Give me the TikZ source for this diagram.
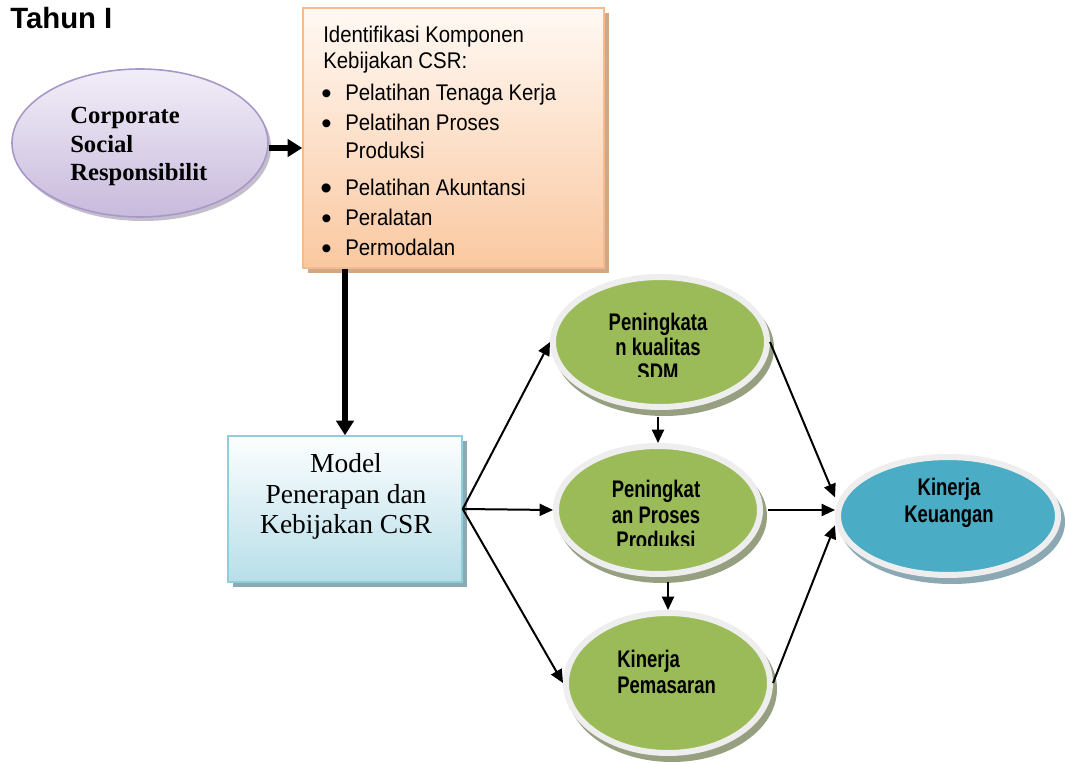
\documentclass[tikz,border=0pt]{standalone}
\usepackage{fontspec}
\setmainfont{Liberation Serif}
\newfontfamily\arial{Liberation Sans}
\newfontfamily\arialm[FakeStretch=0.9]{Liberation Sans}
\newfontfamily\arialn[FakeStretch=0.77]{Liberation Sans}
\usetikzlibrary{shapes.geometric,arrows.meta}

\definecolor{purpTop}{RGB}{242,238,248}
\definecolor{purpBot}{RGB}{200,186,220}
\definecolor{purpLine}{RGB}{168,152,200}
\definecolor{purpShadow}{RGB}{196,190,204}
\definecolor{orTop}{RGB}{255,249,244}
\definecolor{orBot}{RGB}{250,200,160}
\definecolor{orLine}{RGB}{246,186,140}
\definecolor{orShadow}{RGB}{208,168,136}
\definecolor{blTop}{RGB}{253,254,255}
\definecolor{blBot}{RGB}{183,222,232}
\definecolor{blLine}{RGB}{146,205,220}
\definecolor{blShadow}{RGB}{140,170,180}
\definecolor{grFill}{RGB}{155,187,89}
\definecolor{ringCol}{RGB}{238,238,238}
\definecolor{grShadow}{RGB}{150,160,128}
\definecolor{tealFill}{RGB}{75,172,198}
\definecolor{tealShadow}{RGB}{140,168,178}

\tikzset{
  ln/.style={inner sep=0pt, anchor=base west},
  lc/.style={inner sep=0pt, anchor=base},
  bigarrow/.style={line width=4pt, -{Triangle[length=11pt,width=13pt]}},
  thinarrow/.style={line width=1.5pt, -{Triangle[length=10pt,width=9pt]}},
  greenell/.style={ellipse, draw=ringCol, line width=4.5pt, fill=grFill, inner sep=0pt},
  ovaltxt/.style={font=\arialn\bfseries\fontsize{18}{21}\selectfont},
  identtxt/.style={font=\arialm\fontsize{17}{20}\selectfont},
  bul/.style={inner sep=0pt, anchor=base west, font=\arial\fontsize{22}{22}\selectfont},
}

\begin{document}
\begin{tikzpicture}[x=0.75pt,y=-0.75pt]
\useasboundingbox (0,0) rectangle (1065,764);
\fill[white] (0,0) rectangle (1065,764);

% title
\node[ln, font=\arial\bfseries\fontsize{22}{26}\selectfont] (title) at (10,28) {Tahun I};

% shadows
\fill[purpShadow] (143,147) ellipse [x radius=96pt, y radius=55.5pt];
\fill[orShadow] (308,13) rectangle (609,273);
\fill[blShadow] (233,441) rectangle (467,587);
\fill[grShadow] (664,348) ellipse [x radius=82.5pt, y radius=51pt];
\fill[grShadow] (662,516) ellipse [x radius=78.75pt, y radius=50.25pt];
\fill[grShadow] (672,689) ellipse [x radius=78.75pt, y radius=54.75pt];
\fill[tealShadow] (952,522) ellipse [x radius=84.75pt, y radius=46.5pt];

% shapes
\node[ellipse, draw=purpLine, line width=1.2pt, top color=purpTop, bottom color=purpBot,
      minimum width=192pt, minimum height=111pt, inner sep=0pt] (csr) at (140,143) {};
\node[rectangle, draw=orLine, line width=1.1pt, top color=orTop, bottom color=orBot,
      minimum width=225.75pt, minimum height=195pt, inner sep=0pt] (ident) at (453.5,138) {};
\node[rectangle, draw=blLine, line width=1.1pt, top color=blTop, bottom color=blBot,
      minimum width=175.5pt, minimum height=109.5pt, inner sep=0pt] (model) at (345,509) {};
\node[greenell, minimum width=160.5pt, minimum height=97.5pt] (g1) at (660,342) {};
\node[greenell, minimum width=153pt, minimum height=96pt] (g2) at (658,510) {};
\node[greenell, minimum width=153pt, minimum height=105pt] (g3) at (668,683) {};
\node[ellipse, draw=ringCol, line width=4.5pt, fill=tealFill, inner sep=0pt,
      minimum width=165pt, minimum height=88.5pt] (keu) at (948,516) {};

% CSR text
\begin{scope}[every node/.style={ln, font=\bfseries\fontsize{18.5}{22}\selectfont}]
\node (c1) at (70,123) {Corporate};
\node (c2) at (70,152) {Social};
\node (c3) at (70,180) {Responsibilit};
\end{scope}

% ident text
\begin{scope}[every node/.style={ln, identtxt}]
\node (i1) at (323,42) {Identifikasi Komponen};
\node (i2) at (323,68) {Kebijakan CSR:};
\node (i3) at (345,100) {Pelatihan Tenaga Kerja};
\node (i4) at (345,130) {Pelatihan Proses};
\node (i5) at (345,158) {Produksi};
\node (i6) at (345,195) {Pelatihan Akuntansi};
\node (i7) at (345,225) {Peralatan};
\node (i8) at (345,255) {Permodalan};
\end{scope}
\node[bul] (b1) at (321,103) {•};
\node[bul] (b2) at (321,133) {•};
\node[bul, font=\arial\fontsize{25}{25}\selectfont] (b3) at (320,199) {•};
\node[bul] (b4) at (321,228) {•};
\node[bul] (b5) at (321,258) {•};

% model text
\begin{scope}[every node/.style={lc, font=\fontsize{20.6}{24}\selectfont}]
\node (m1) at (346,472) {Model};
\node (m2) at (346,503) {Penerapan dan};
\node (m3) at (346,533) {Kebijakan CSR};
\end{scope}

% green texts
\begin{scope}
\clip (540,290) rectangle (780,376);
\node[lc, ovaltxt] (t11) at (658,330) {Peningkata};
\node[lc, ovaltxt] (t12) at (658,355) {n kualitas};
\node[lc, ovaltxt] (t13) at (658,380) {SDM};
\end{scope}
\begin{scope}
\clip (540,460) rectangle (780,545);
\node[lc, ovaltxt] (t21) at (656,497) {Peningkat};
\node[lc, ovaltxt] (t22) at (656,523) {an Proses};
\node[lc, ovaltxt] (t23) at (656,548) {Produksi};
\end{scope}
\node[ln, ovaltxt] (t31) at (617,667) {Kinerja};
\node[ln, ovaltxt] (t32) at (617,693) {Pemasaran};
\node[lc, ovaltxt] (t41) at (949,495) {Kinerja};
\node[lc, ovaltxt] (t42) at (949,522) {Keuangan};

% connectors
\draw[bigarrow] ([yshift=-3.75pt]csr.east) -- ([yshift=-3.75pt]csr.east -| ident.west);
\draw[bigarrow, line width=4.5pt] (model.north |- ident.south) -- (model.north);
\draw[thinarrow] (model.east) -- (g1.west);
\draw[thinarrow] (model.east) -- (g2.west);
\draw[thinarrow] (model.east) -- (g3.west);
\draw[thinarrow] ([yshift=-5pt]g2.north |- g1.south) -- (g2.north);
\draw[thinarrow] ([yshift=-4pt]g3.north |- g2.south) -- (g3.north);
\draw[thinarrow] (g1.east) -- ([yshift=14pt]keu.west);
\draw[thinarrow] ([xshift=4pt]g2.east) -- ([yshift=4.5pt]keu.west);
\draw[thinarrow] (g3.east) -- ([yshift=-7pt]keu.west);
\end{tikzpicture}
\end{document}
